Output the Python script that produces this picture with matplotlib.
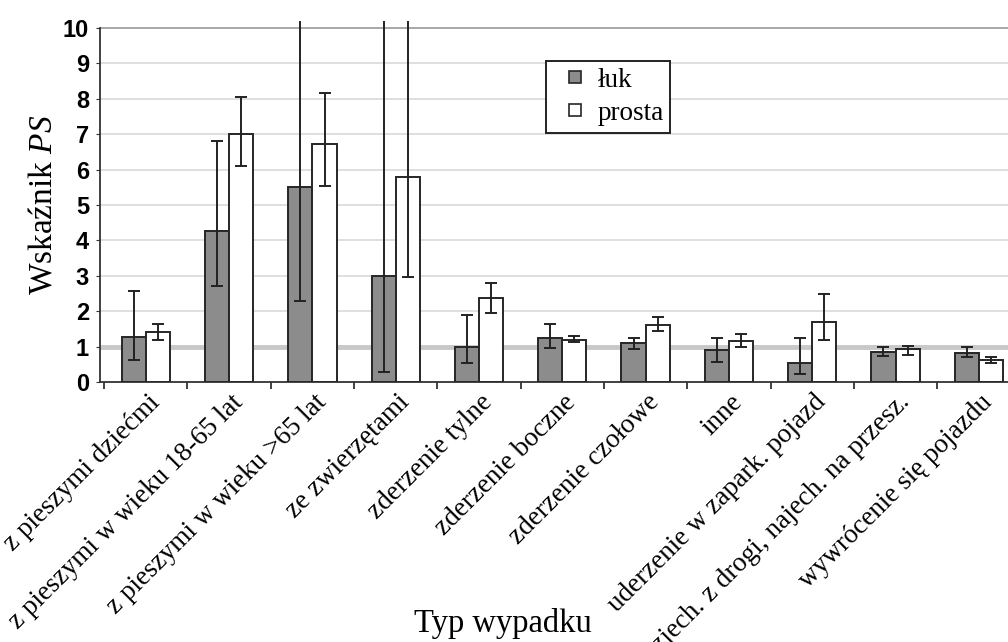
import matplotlib
matplotlib.use("Agg")
import matplotlib.pyplot as plt
from matplotlib.lines import Line2D
import matplotlib.transforms as mtransforms
import numpy as np

# typy wypadków
kategorie = [
    "z pieszymi dziećmi",
    "z pieszymi w wieku 18-65 lat",
    "z pieszymi w wieku >65 lat",
    "ze zwierzętami",
    "zderzenie tylne",
    "zderzenie boczne",
    "zderzenie czołowe",
    "inne",
    "uderzenie w zapark. pojazd",
    "zjech. z drogi, najech. na przesz.",
    "wywrócenie się pojazdu",
]

# wskaźnik PS na łuku i na prostej
luk = [1.27, 4.28, 5.52, 3.0, 1.0, 1.25, 1.09, 0.9, 0.53, 0.86, 0.81]
luk_dol = [0.62, 2.72, 2.3, 0.28, 0.53, 0.97, 0.93, 0.57, 0.23, 0.73, 0.7]
luk_gora = [2.56, 6.8, 12.0, 14.0, 1.89, 1.64, 1.25, 1.25, 1.23, 0.98, 1.0]

prosta = [1.42, 7.0, 6.72, 5.78, 2.36, 1.2, 1.61, 1.17, 1.7, 0.93, 0.62]
prosta_dol = [1.2, 6.1, 5.55, 2.97, 1.96, 1.12, 1.44, 1.0, 1.19, 0.76, 0.53]
prosta_gora = [1.63, 8.05, 8.17, 12.0, 2.8, 1.3, 1.84, 1.35, 2.49, 1.02, 0.71]

plt.rcParams["mathtext.fontset"] = "custom"
plt.rcParams["mathtext.rm"] = "Liberation Serif"
plt.rcParams["mathtext.it"] = "Liberation Serif:italic"

fig = plt.figure(figsize=(10.08, 6.42), dpi=100)
ax = fig.add_axes([100 / 1008, 260 / 642, 920.5 / 1008, 361 / 642])

x = np.arange(len(kategorie))
w = 0.29
szary = "#8c8c8c"

ax.bar(x - w / 2, luk, w, color=szary, edgecolor="#262626", linewidth=1.4, zorder=3)
ax.bar(x + w / 2, prosta, w, color="white", edgecolor="#262626", linewidth=1.4, zorder=3)

err_kw = dict(fmt="none", ecolor="#222222", elinewidth=1.4, capsize=4, capthick=1.4, zorder=4)
ax.errorbar(x - w / 2, luk,
            yerr=[np.subtract(luk, luk_dol), np.subtract(luk_gora, luk)], **err_kw)
ax.errorbar(x + w / 2, prosta,
            yerr=[np.subtract(prosta, prosta_dol), np.subtract(prosta_gora, prosta)], **err_kw)

# siatka i linia odniesienia PS = 1
for yv in range(1, 10):
    ax.axhline(yv, color="#d6d6d6", lw=1.1, zorder=0)
ax.axhline(1, color="#c8c8c8", lw=3.5, zorder=1)
ax.axhline(10, color="#a0a0a0", lw=1.3, zorder=1)

ax.set_xlim(-0.55, 10.5)
ax.set_ylim(0, 10.2)
ax.spines["top"].set_visible(False)
ax.spines["right"].set_visible(False)
ax.spines["left"].set_bounds(0, 10)
ax.spines["left"].set_color("#333333")
ax.spines["bottom"].set_color("#333333")
ax.spines["left"].set_linewidth(1.3)
ax.spines["bottom"].set_linewidth(1.3)

ax.set_yticks(range(0, 11))
ax.tick_params(axis="y", length=3, pad=5, colors="#333333")
for lab in ax.get_yticklabels():
    lab.set_fontfamily("Liberation Sans")
    lab.set_fontweight("bold")
    lab.set_fontsize(17)
    lab.set_color("black")

ax.set_xticks(x)
ax.set_xticks(np.arange(len(kategorie) + 1) - 0.5, minor=True)
ax.tick_params(axis="x", which="major", length=0, pad=12)
ax.tick_params(axis="x", which="minor", length=5, width=1.3, color="#333333")
ax.set_xticklabels(kategorie, rotation=45, ha="right", va="center",
                   rotation_mode="anchor", family="Liberation Serif", fontsize=19.5)
przesun = mtransforms.ScaledTranslation(10 / 100, 0, fig.dpi_scale_trans)
for lab in ax.get_xticklabels():
    lab.set_transform(lab.get_transform() + przesun)

ax.set_ylabel("Wskaźnik $PS$", family="Liberation Serif", fontsize=24)
ax.yaxis.set_label_coords(-0.045, 10 / 10.2 / 2)

fig.text(503 / 1008, 10 / 642, "Typ wypadku", family="Liberation Serif",
         fontsize=23.5, ha="center", va="baseline")

uchwyty = [Line2D([], [], ls="none", marker="s", markersize=8.5,
                  markerfacecolor=szary, markeredgecolor="#262626", markeredgewidth=1.2),
           Line2D([], [], ls="none", marker="s", markersize=8.5,
                  markerfacecolor="white", markeredgecolor="#262626", markeredgewidth=1.2)]
leg = fig.legend(uchwyty, ["łuk", "prosta"], loc="upper left",
                 bbox_to_anchor=(546 / 1008, 1 - 61 / 642),
                 prop={"family": "Liberation Serif", "size": 19.5},
                 handlelength=1.65, handletextpad=0.0,
                 borderpad=0.25, labelspacing=0.3, borderaxespad=0,
                 fancybox=False, framealpha=1)
leg.get_frame().set_edgecolor("#222222")
leg.get_frame().set_linewidth(1.4)

fig.savefig("out.png", dpi=100)
